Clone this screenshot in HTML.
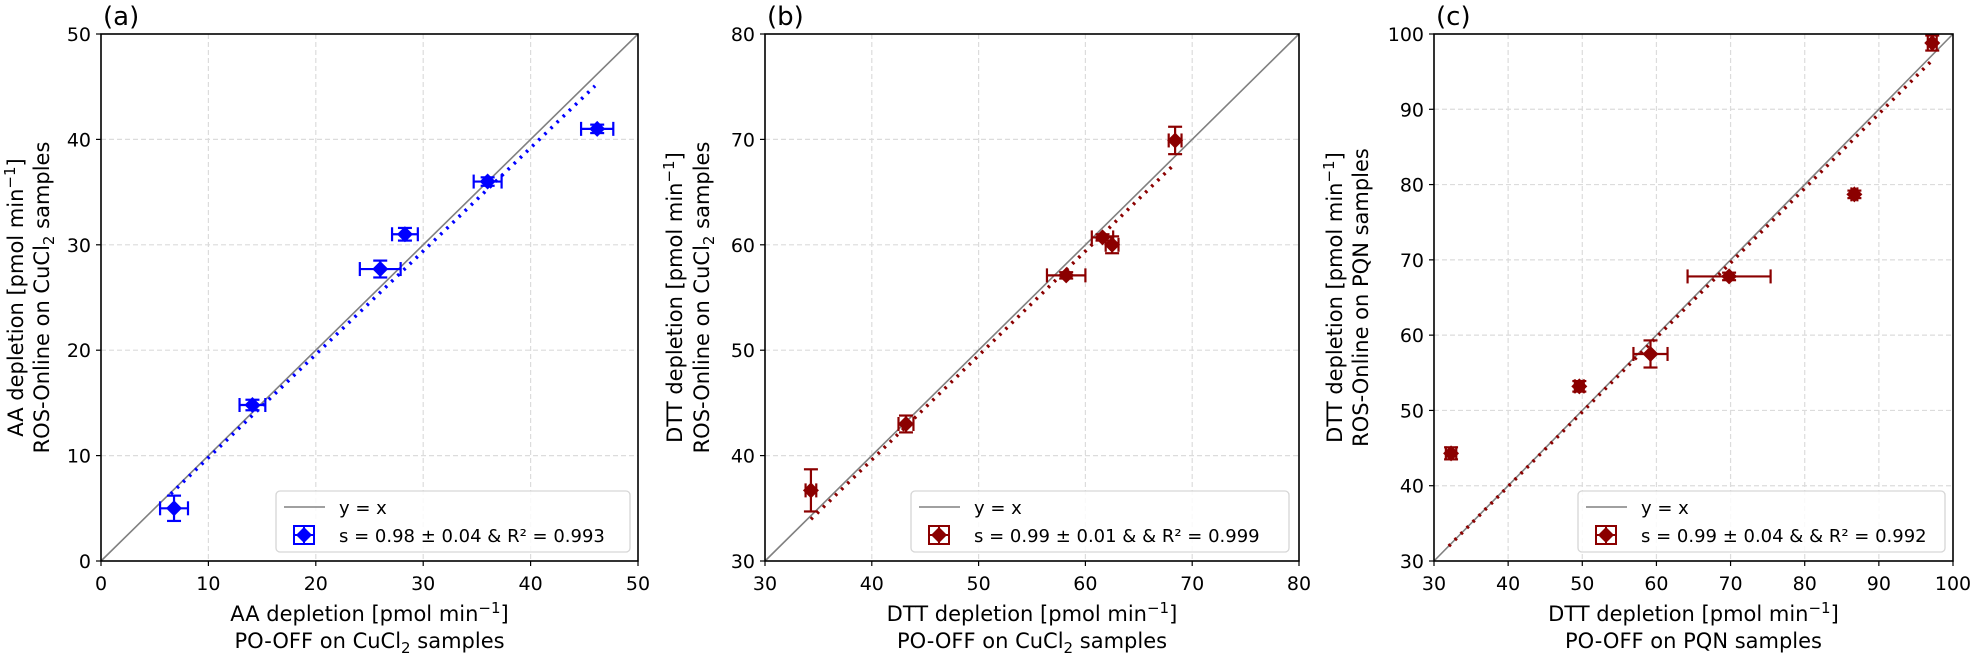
<!DOCTYPE html>
<html><head><meta charset="utf-8"><style>
html,body{margin:0;padding:0;background:#fff;}
svg{display:block;font-family:"DejaVu Sans","Liberation Sans",sans-serif;}
</style></head><body>
<svg id="fig" width="1974" height="653" viewBox="0 0 1974 653" xmlns="http://www.w3.org/2000/svg"></svg>
<script>
// Panel (a) data
const aX=[6.8,14.1,26.0,28.3,36.0,46.2];
const aY=[5.0,14.8,27.7,31.0,36.0,41.0];
const aXerr=[1.3,1.2,1.9,1.2,1.3,1.5];
const aYerr=[1.2,0.5,0.8,0.6,0.4,0.4];
const aFit=[0.98,0.0,6.5,46.0];
const aTicks=[0,10,20,30,40,50];
// Panel (b) data
const bX=[34.3,43.2,58.2,61.6,62.5,68.4];
const bY=[36.7,43.0,57.1,60.7,60.0,69.9];
const bXerr=[0.5,0.7,1.8,1.0,0.6,0.6];
const bYerr=[2.0,0.8,0.3,0.3,0.8,1.3];
const bFit=[0.99,0.0,34.3,68.4];
const bTicks=[30,40,50,60,70,80];
// Panel (c) data
const cX=[32.3,49.6,59.2,69.8,86.7,97.2];
const cY=[44.3,53.2,57.5,67.8,78.7,98.8];
const cXerr=[0.7,0.6,2.3,5.6,0.4,0.6];
const cYerr=[0.8,0.7,1.8,0.5,0.5,1.0];
const cFit=[0.99,0.3,32.0,97.2];
const cTicks=[30,40,50,60,70,80,90,100];

const NS="http://www.w3.org/2000/svg";
const svg=document.getElementById('fig');
function mk(tag,attrs,parent,txt){const e=document.createElementNS(NS,tag);for(const k in attrs)e.setAttribute(k,attrs[k]);if(txt!==undefined)e.textContent=txt;(parent||svg).appendChild(e);return e;}

const panels=[
 {id:'a',L:101,R:638,X:aX,Y:aY,XE:aXerr,YE:aYerr,fit:aFit,ticks:aTicks,color:'#0000ff',
  ylab:['AA depletion [pmol min','ROS-Online on CuCl','samples'],xlab:['AA depletion [pmol min','PO-OFF on CuCl','samples'],
  leg:'s = 0.98 ± 0.04 & R² = 0.993',legL:276,legR:630,ylx:[15,41]},
 {id:'b',L:765,R:1299,X:bX,Y:bY,XE:bXerr,YE:bYerr,fit:bFit,ticks:bTicks,color:'#8b0000',
  ylab:['DTT depletion [pmol min','ROS-Online on CuCl','samples'],xlab:['DTT depletion [pmol min','PO-OFF on CuCl','samples'],
  leg:'s = 0.99 ± 0.01 &  & R² = 0.999',legL:911,legR:1289,ylx:[674,701]},
 {id:'c',L:1434,R:1953,X:cX,Y:cY,XE:cXerr,YE:cYerr,fit:cFit,ticks:cTicks,color:'#8b0000',
  ylab:['DTT depletion [pmol min','ROS-Online on PQN samples',''],xlab:['DTT depletion [pmol min','PO-OFF on PQN samples',''],
  leg:'s = 0.99 ± 0.04 &  & R² = 0.992',legL:1578,legR:1945,ylx:[1334,1360]}
];
const T=34,B=561;
panels.forEach(p=>{
  const g=mk('g',{});
  
  
  const lo=p.ticks[0],hi=p.ticks[p.ticks.length-1];
  const sx=v=>p.L+(v-lo)/(hi-lo)*(p.R-p.L);
  const sy=v=>B-(v-lo)/(hi-lo)*(B-T);
  p.ticks.forEach(t=>{
    if(t!==lo&&t!==hi){
      const gx=mk('line',{x1:sx(t),x2:sx(t),y1:T,y2:B,stroke:'#dcdcdc','stroke-width':1.2,'stroke-dasharray':'5,3'},g);
      
      
      const gy=mk('line',{x1:p.L,x2:p.R,y1:sy(t),y2:sy(t),stroke:'#dcdcdc','stroke-width':1.2,'stroke-dasharray':'5,3'},g);
      
      
    }
    const tx=mk('text',{x:sx(t),y:590,'text-anchor':'middle','font-size':19,fill:'#000'},g,String(t));
    
    
    mk('line',{x1:sx(t),x2:sx(t),y1:B,y2:B+5,stroke:'#000','stroke-width':1.2},g);
    const ty=mk('text',{x:p.L-10,y:sy(t)+7,'text-anchor':'end','font-size':19,fill:'#000'},g,String(t));
    
    
    mk('line',{x1:p.L-5,x2:p.L,y1:sy(t),y2:sy(t),stroke:'#000','stroke-width':1.2},g);
  });
  const idl=mk('line',{x1:sx(lo),y1:sy(lo),x2:sx(hi),y2:sy(hi),stroke:'#808080','stroke-width':1.6},g);
  
  
  const f=p.fit;
  const fl=mk('line',{x1:sx(f[2]),y1:sy(f[0]*f[2]+f[1]),x2:sx(f[3]),y2:sy(f[0]*f[3]+f[1]),stroke:p.color,'stroke-width':3.5,'stroke-dasharray':'2.5,6','stroke-linecap':'butt'},g);
  
  
  p.X.forEach((x,i)=>{
    const pg=mk('g',{},g);
    
    
    const cx=sx(x),cy=sy(p.Y[i]);
    const x1=sx(x-p.XE[i]),x2=sx(x+p.XE[i]),y1=sy(p.Y[i]-p.YE[i]),y2=sy(p.Y[i]+p.YE[i]);
    const st={stroke:p.color,'stroke-width':2.2};
    mk('line',Object.assign({x1:x1,x2:x2,y1:cy,y2:cy},st),pg);
    mk('line',Object.assign({x1:cx,x2:cx,y1:y1,y2:y2},st),pg);
    mk('line',Object.assign({x1:x1,x2:x1,y1:cy-7,y2:cy+7},st),pg);
    mk('line',Object.assign({x1:x2,x2:x2,y1:cy-7,y2:cy+7},st),pg);
    mk('line',Object.assign({x1:cx-7,x2:cx+7,y1:y1,y2:y1},st),pg);
    mk('line',Object.assign({x1:cx-7,x2:cx+7,y1:y2,y2:y2},st),pg);
    mk('path',{d:`M${cx} ${cy-8}L${cx+8} ${cy}L${cx} ${cy+8}L${cx-8} ${cy}Z`,fill:p.color},pg);
  });
  const fr=mk('rect',{x:p.L,y:T,width:p.R-p.L,height:B-T,fill:'none',stroke:'#000','stroke-width':1.6},g);
  
  
  const pl=mk('text',{x:p.L+2,y:25,'font-size':26,fill:'#000'},g,'('+p.id+')');
  
  
  const lg=mk('g',{},g);
  
  
  mk('rect',{x:p.legL,y:491,width:p.legR-p.legL,height:61,rx:4,fill:'#fff','fill-opacity':0.85,stroke:'#d6d6d6','stroke-width':1.3},lg);
  const l0=p.legL;
  mk('line',{x1:l0+8,x2:l0+49,y1:507,y2:507,stroke:'#808080','stroke-width':1.6},lg);
  const t1=mk('text',{x:l0+63,y:514,'font-size':18,fill:'#000'},lg,'y = x');
  
  
  const mx=l0+28,my=535;
  mk('rect',{x:mx-10,y:my-9,width:20,height:18,fill:'none',stroke:p.color,'stroke-width':2},lg);
  mk('line',{x1:mx-10,x2:mx+10,y1:my,y2:my,stroke:p.color,'stroke-width':2},lg);
  mk('line',{x1:mx,x2:mx,y1:my-9,y2:my+9,stroke:p.color,'stroke-width':2},lg);
  mk('path',{d:`M${mx} ${my-8}L${mx+8} ${my}L${mx} ${my+8}L${mx-8} ${my}Z`,fill:p.color},lg);
  const t2=mk('text',{x:l0+63,y:542,'font-size':18,fill:'#000'},lg,p.leg);
  
  
  const cxm=(p.L+p.R)/2;
  const xl=mk('text',{x:cxm,y:621,'text-anchor':'middle','font-size':21,fill:'#000'},g);
  
  
  xl.innerHTML=p.xlab[0]+'<tspan dy="-8" font-size="15">−1</tspan><tspan dy="8">]</tspan>';
  const xl2=mk('text',{x:cxm,y:648,'text-anchor':'middle','font-size':21,fill:'#000'},g);
  
  
  xl2.innerHTML=p.xlab[2]?p.xlab[1]+'<tspan dy="5" font-size="15">2</tspan><tspan dy="-5"> '+p.xlab[2]+'</tspan>':p.xlab[1];
  const cym=(T+B)/2;
  const yl=mk('text',{x:0,y:0,'text-anchor':'middle','font-size':21,fill:'#000',transform:`translate(${p.ylx[0]+8},${cym}) rotate(-90)`},g);
  
  
  yl.innerHTML=p.ylab[0]+'<tspan dy="-8" font-size="15">−1</tspan><tspan dy="8">]</tspan>';
  const yl2=mk('text',{x:0,y:0,'text-anchor':'middle','font-size':21,fill:'#000',transform:`translate(${p.ylx[1]+8},${cym}) rotate(-90)`},g);
  
  
  yl2.innerHTML=p.ylab[2]?p.ylab[1]+'<tspan dy="5" font-size="15">2</tspan><tspan dy="-5"> '+p.ylab[2]+'</tspan>':p.ylab[1];
});
</script>
</body></html>
